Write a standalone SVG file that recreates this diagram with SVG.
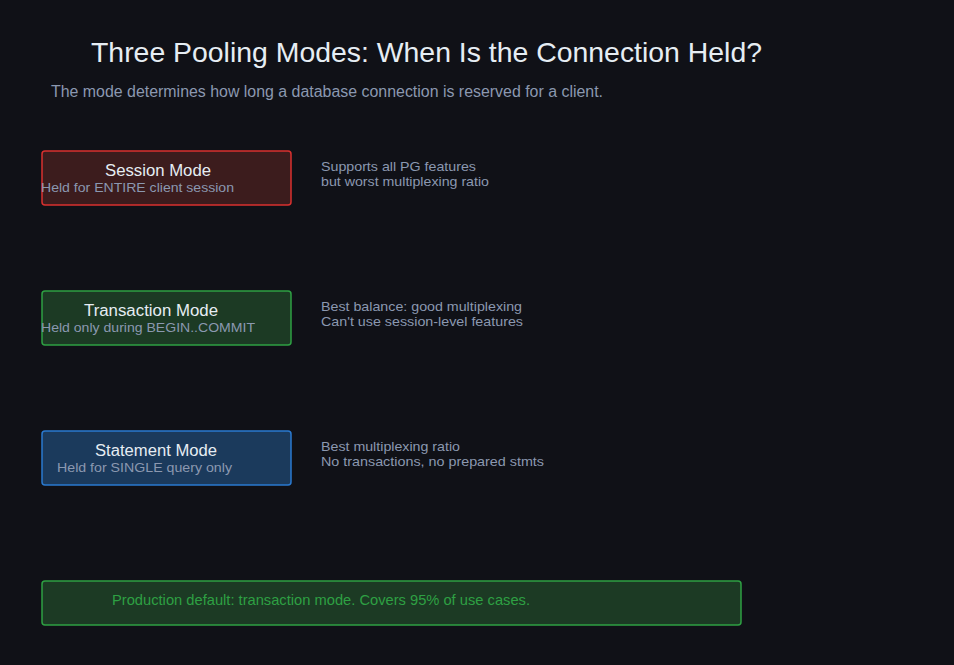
<svg xmlns="http://www.w3.org/2000/svg" width="954" height="665" viewBox="0 0 954 665">
<style>
text{font-family:"Liberation Sans",Arial,sans-serif}
.title{font-size:28px;fill:#e6edf3}
.sub{font-size:16px;fill:#8b98b0}
.name{font-size:16px;fill:#e6edf3}
.desc{font-size:13px;fill:#8b98b0}
.note{font-size:13px;fill:#8b98b0}
.box{stroke-width:1.5}
</style>
<rect width="954" height="665" fill="#101117"/>
<text class="title" x="91" y="62" textLength="671" lengthAdjust="spacingAndGlyphs">Three Pooling Modes: When Is the Connection Held?</text>
<text class="sub" x="51" y="97" textLength="552" lengthAdjust="spacingAndGlyphs">The mode determines how long a database connection is reserved for a client.</text>
<g id="connectors"></g>
<g id="session">
<rect class="box" x="42" y="151" width="249" height="54" rx="3" fill="#3c1c1d" stroke="#d9302f"/>
<text class="name" x="105" y="176" textLength="106" lengthAdjust="spacingAndGlyphs">Session Mode</text>
<text class="desc" x="41" y="192" textLength="193" lengthAdjust="spacingAndGlyphs">Held for ENTIRE client session</text>
</g>
<g id="session-note">
<text class="note" x="321" y="171" textLength="155" lengthAdjust="spacingAndGlyphs">Supports all PG features</text>
<text class="note" x="321" y="186" textLength="168" lengthAdjust="spacingAndGlyphs">but worst multiplexing ratio</text>
</g>
<g id="transaction">
<rect class="box" x="42" y="291" width="249" height="54" rx="3" fill="#1c3a24" stroke="#2ea043"/>
<text class="name" x="84" y="316" textLength="134" lengthAdjust="spacingAndGlyphs">Transaction Mode</text>
<text class="desc" x="41" y="332" textLength="214" lengthAdjust="spacingAndGlyphs">Held only during BEGIN..COMMIT</text>
</g>
<g id="transaction-note">
<text class="note" x="321" y="311" textLength="201" lengthAdjust="spacingAndGlyphs">Best balance: good multiplexing</text>
<text class="note" x="321" y="326" textLength="202" lengthAdjust="spacingAndGlyphs">Can't use session-level features</text>
</g>
<g id="statement">
<rect class="box" x="42" y="431" width="249" height="54" rx="3" fill="#1b3a5c" stroke="#2a79cf"/>
<text class="name" x="95" y="456" textLength="122" lengthAdjust="spacingAndGlyphs">Statement Mode</text>
<text class="desc" x="57" y="472" textLength="175" lengthAdjust="spacingAndGlyphs">Held for SINGLE query only</text>
</g>
<g id="statement-note">
<text class="note" x="321" y="451" textLength="139" lengthAdjust="spacingAndGlyphs">Best multiplexing ratio</text>
<text class="note" x="321" y="466" textLength="223" lengthAdjust="spacingAndGlyphs">No transactions, no prepared stmts</text>
</g>
<g id="production-default">
<rect class="box" x="42" y="581" width="699" height="44" rx="3" fill="#1c3a24" stroke="#2ea043"/>
<text x="112" y="605" font-size="15" fill="#2ea043" textLength="418" lengthAdjust="spacingAndGlyphs">Production default: transaction mode. Covers 95% of use cases.</text>
</g>
</svg>
